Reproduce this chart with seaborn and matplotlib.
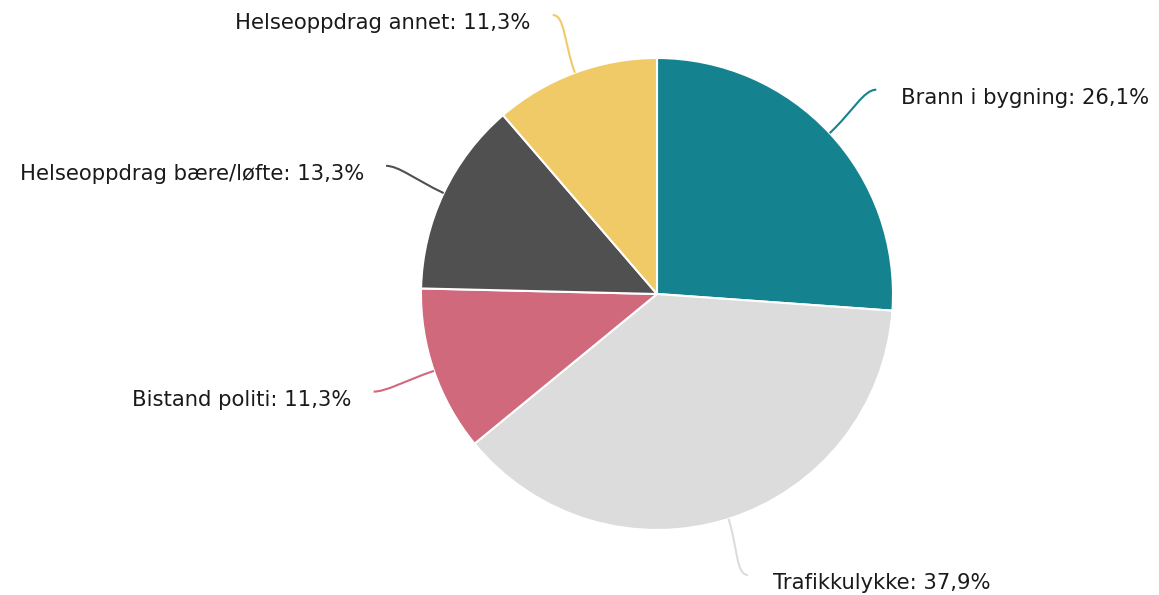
import numpy as np
import matplotlib
matplotlib.use('Agg')
import matplotlib.pyplot as plt
from matplotlib.path import Path
from matplotlib.patches import PathPatch
import seaborn as sns

# data
categories = ['Brann i bygning', 'Trafikkulykke', 'Bistand politi',
              'Helseoppdrag bære/løfte', 'Helseoppdrag annet']
shares = [26.1, 37.9, 11.3, 13.3, 11.3]

colors = ['#14838F', '#DCDCDC', '#D0697B', '#505050', '#F0CA67']

sns.set_theme(style='white')
plt.rcParams['font.family'] = ['DejaVu Sans']

fig = plt.figure(figsize=(11.59, 5.95), dpi=100)
ax = fig.add_axes([0, 0, 1, 1])

cx, cy, r = 657, 301, 236
wedges, _ = ax.pie(shares, colors=colors, startangle=90, counterclock=False,
                   center=(cx, cy), radius=r, frame=True,
                   wedgeprops=dict(edgecolor='white', linewidth=1.5))
ax.set_xlim(0, 1159)
ax.set_ylim(0, 595)
ax.set_aspect('equal')
ax.axis('off')

# curved connectors + labels
for w, cat, val, col in zip(wedges, categories, shares, colors):
    mid = (w.theta1 + w.theta2) / 2
    rad = np.deg2rad(mid)
    dx, dy = np.cos(rad), np.sin(rad)
    x0, y0 = cx + r * dx, cy + r * dy
    x1, y1 = cx + 1.27 * r * dx, cy + 1.27 * r * dy
    y1 = min(max(y1, 20), 580)   # keep labels inside the canvas
    L = np.hypot(x1 - x0, y1 - y0)
    side = 1 if dx > 0 else -1
    verts = [(x0, y0),
             (x0 + 0.5 * L * dx, y0 + 0.5 * L * dy),
             (x1 - side * 0.2 * L, y1),
             (x1, y1)]
    path = Path(verts, [Path.MOVETO, Path.CURVE4, Path.CURVE4, Path.CURVE4])
    ax.add_patch(PathPatch(path, facecolor='none', edgecolor=col, lw=1.5))
    tx = x1 + side * (25 if side > 0 else 22)
    label = f'{cat}: {val:.1f}%'.replace('.', ',')
    ax.text(tx, y1 - 14, label, ha='left' if side > 0 else 'right',
            va='baseline', fontsize=15.2, color='#1a1a1a')

fig.savefig('out.png', dpi=100)
